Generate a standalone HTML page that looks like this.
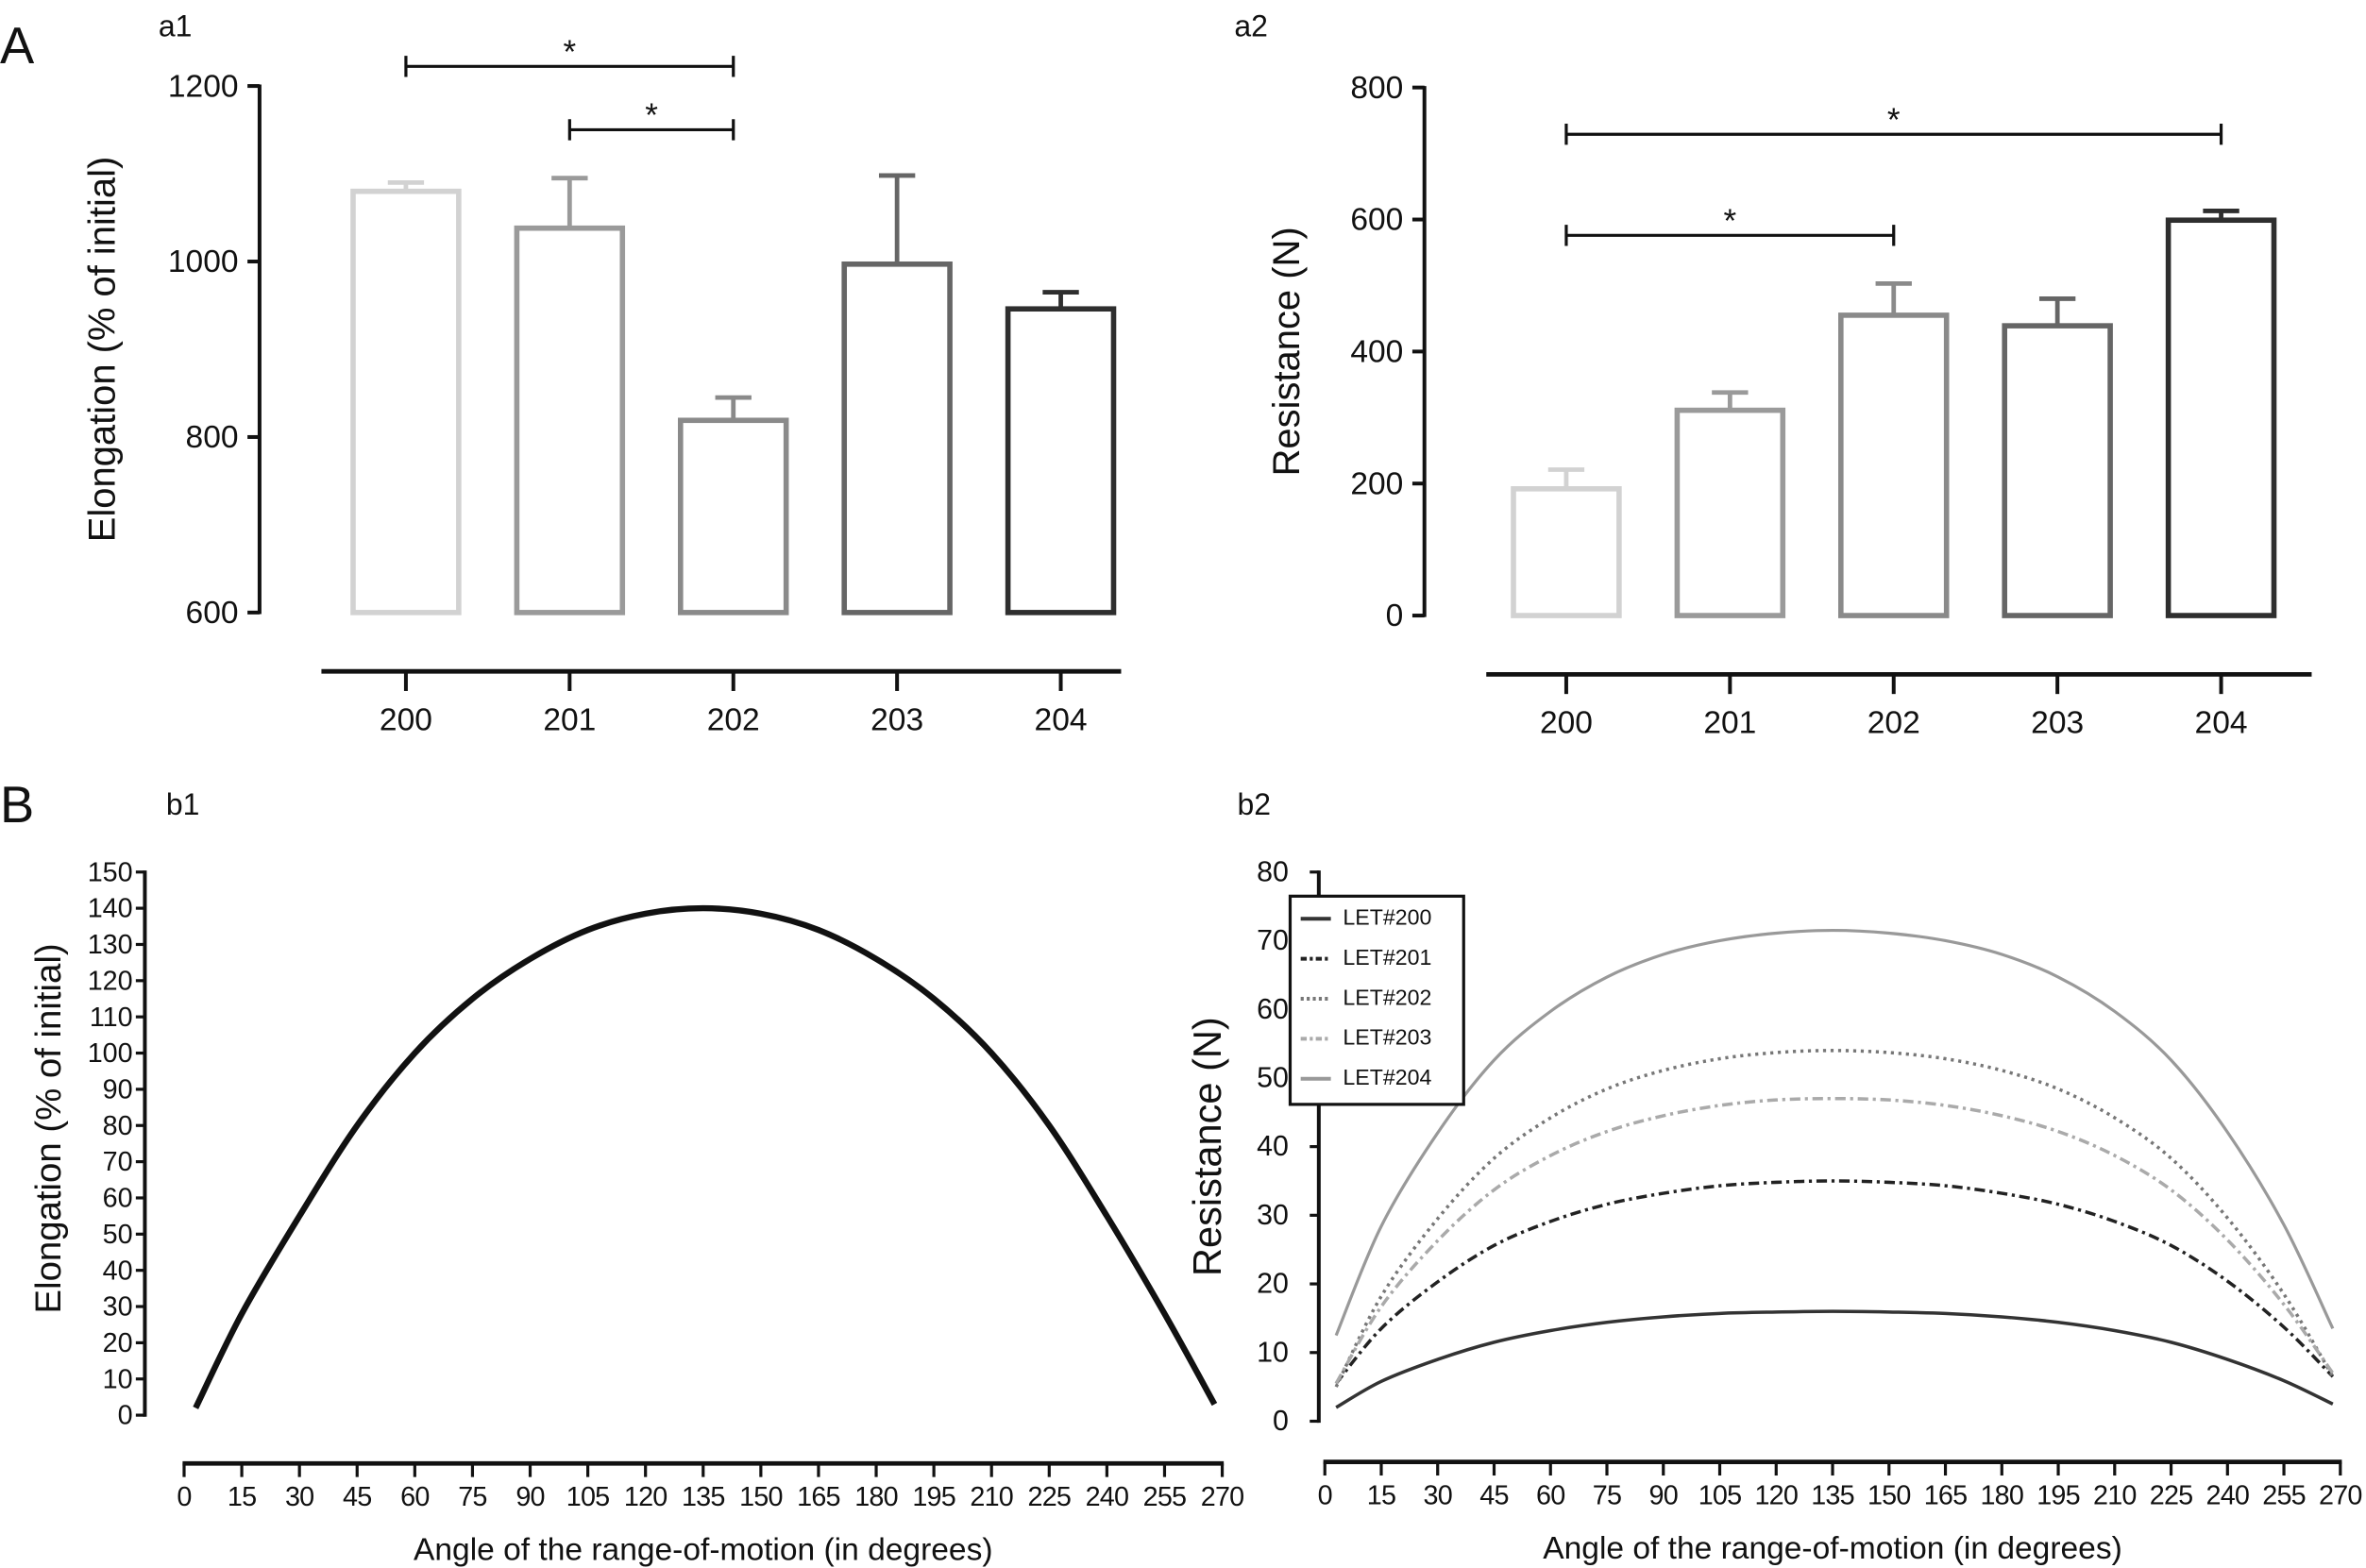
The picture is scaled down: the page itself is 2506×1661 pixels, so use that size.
<!DOCTYPE html>
<html><head><meta charset="utf-8"><style>
html,body{margin:0;padding:0;background:#fff}
svg{display:block}
text{font-family:"Liberation Sans",sans-serif;fill:#111}
.nar{font-family:"Liberation Sans Narrow","Liberation Sans",sans-serif}
</style></head><body>
<svg id="fig" width="2506" height="1661" viewBox="0 0 1568 1039.3" xmlns="http://www.w3.org/2000/svg">
<text x="0" y="42" font-size="34">A</text>
<text x="105" y="24" font-size="20">a1</text>
<text x="818" y="24" font-size="20">a2</text>
<text x="0" y="545" font-size="34">B</text>
<text x="110" y="540" font-size="20">b1</text>
<text x="820" y="540" font-size="20">b2</text>
<g id="a1"></g>
<g id="a2"></g>
<g id="b1"></g>
<g id="b2"></g>
</svg>
<script>
const groups = ["200","201","202","203","204"];
const elongVals = [1080,1038,819,997,946];
const elongErr = [1090,1095,845,1098,965];
const resVals = [192,311,455,439,599];
const resErr = [221,338,503,480,613];
const barColors = ["#d2d2d2","#9a9a9a","#8a8a8a","#666","#2e2e2e"];
const elongTicks = [600,800,1000,1200];
const resTicks = [0,200,400,600,800];

const angles = [3,15,30,45,60,75,90,105,120,135,150,165,180,195,210,225,240,255,268];
const xTicks = [0,15,30,45,60,75,90,105,120,135,150,165,180,195,210,225,240,255,270];
const b1Ticks = [0,10,20,30,40,50,60,70,80,90,100,110,120,130,140,150];
const b2Ticks = [0,10,20,30,40,50,60,70,80];
const elongCurve = [2,28,55,80,100,115,126,134,138.5,140,138.5,134,126,115,100,80,55,28,3];
const let200 = [2,5.8,9,11.5,13.2,14.4,15.2,15.7,15.9,16,15.9,15.7,15.2,14.4,13.2,11.5,9,5.9,2.5];
const let201 = [5.5,13.5,20.3,25.6,29.1,31.6,33.2,34.3,34.8,35,34.8,34.3,33.2,31.6,29.1,25.6,20.4,13.7,6.5];
const let202 = [5,18.2,29.5,38.3,44.2,48.4,51.1,52.8,53.7,54,53.7,52.8,51.1,48.4,44.2,38.3,29.6,18.5,6.5];
const let203 = [5.5,16.7,26.3,33.7,38.7,42.2,44.5,46,46.8,47,46.8,46,44.5,42.2,38.7,33.7,26.4,17,7];
const let204 = [12.5,28.4,42,52.6,59.7,64.7,68,70,71.1,71.5,71.1,70,68,64.7,59.7,52.6,42.1,28.6,13.5];
const seriesNames = ["LET#200","LET#201","LET#202","LET#203","LET#204"];
const NS="http://www.w3.org/2000/svg";
function mk(parent,tag,attrs,txt){const e=document.createElementNS(NS,tag);for(const k in attrs)e.setAttribute(k,attrs[k]);if(txt!==undefined)e.textContent=txt;parent.appendChild(e);return e;}

function barChart(gid,o,vals,errs,ticks,title,brackets){
  const g=document.getElementById(gid);
  const y=v=>o.y0-(v-o.vmin)/(o.vmax-o.vmin)*(o.y0-o.y1);
  const ax=mk(g,'line',{x1:o.ax,y1:y(o.vmax)-1,x2:o.ax,y2:y(o.vmin)+1,stroke:'#111','stroke-width':2.5});
  
  ticks.forEach(t=>{
    const tl=mk(g,'line',{x1:o.ax-8,y1:y(t),x2:o.ax,y2:y(t),stroke:'#111','stroke-width':2.5});
    
    const tx=mk(g,'text',{x:o.ax-14,y:y(t)+7,'font-size':21,'text-anchor':'end'},t);
    
  });
  const tt=mk(g,'text',{x:0,y:0,'font-size':25,'text-anchor':'middle',transform:`translate(${o.titleX},${(o.y0+o.y1)/2}) rotate(-90)`},title);
  
  const xa=mk(g,'line',{x1:o.xl,y1:o.xaY,x2:o.xr,y2:o.xaY,stroke:'#111','stroke-width':3});
  
  groups.forEach((c,i)=>{
    const cx=o.c0+i*o.step;
    const err=mk(g,'line',{x1:cx,y1:y(errs[i]),x2:cx,y2:y(vals[i]),stroke:barColors[i],'stroke-width':3});
    
    const cap=mk(g,'line',{x1:cx-12,y1:y(errs[i]),x2:cx+12,y2:y(errs[i]),stroke:barColors[i],'stroke-width':3});
    
    const r=mk(g,'rect',{x:cx-35,y:y(vals[i]),width:70,height:y(o.vmin)-y(vals[i]),fill:'#fff',stroke:barColors[i],'stroke-width':3.5});
    
    const tk=mk(g,'line',{x1:cx,y1:o.xaY,x2:cx,y2:o.xaY+13,stroke:'#111','stroke-width':2.5});
    
    const lb=mk(g,'text',{x:cx,y:o.xaY+39,'font-size':21,'text-anchor':'middle'},c);
    
  });
  brackets.forEach(b=>{
    const x1=o.c0+b[0]*o.step,x2=o.c0+b[1]*o.step;
    const l=mk(g,'path',{d:`M${x1},${b[2]-7}V${b[2]+7}M${x1},${b[2]}H${x2}M${x2},${b[2]-7}V${b[2]+7}`,stroke:'#111','stroke-width':2,fill:'none'});
    
    const s=mk(g,'text',{x:(x1+x2)/2,y:b[2]-2,'font-size':22,'text-anchor':'middle'},'*');
    
  });
}
barChart('a1',{ax:172,vmin:600,vmax:1200,y0:406,y1:57,c0:269,step:108.5,xl:213,xr:743,xaY:445,titleX:76},elongVals,elongErr,elongTicks,'Elongation (% of initial)',[[0,2,44],[1,2,86]]);
barChart('a2',{ax:944,vmin:0,vmax:800,y0:408,y1:58,c0:1038,step:108.5,xl:985,xr:1532,xaY:447,titleX:861},resVals,resErr,resTicks,'Resistance (N)',[[0,4,89],[0,2,156]]);

function smooth(pts){let d=`M${pts[0][0]},${pts[0][1]}`;for(let i=0;i<pts.length-1;i++){const p0=pts[Math.max(0,i-1)],p1=pts[i],p2=pts[i+1],p3=pts[Math.min(pts.length-1,i+2)];
 d+=`C${p1[0]+(p2[0]-p0[0])/6},${p1[1]+(p2[1]-p0[1])/6} ${p2[0]-(p3[0]-p1[0])/6},${p2[1]-(p3[1]-p1[1])/6} ${p2[0]},${p2[1]}`;}return d;}

function lineChart(gid,o,ticks,title,series){
  const g=document.getElementById(gid);
  const x=a=>o.x0+a/270*(o.x1-o.x0);
  const y=v=>o.y0-v/o.vmax*(o.y0-o.y1);
  const ax=mk(g,'line',{x1:o.ax,y1:y(o.vmax)-1,x2:o.ax,y2:y(0)+1,stroke:'#111','stroke-width':2.5});
  
  ticks.forEach(t=>{
    const tl=mk(g,'line',{x1:o.ax-6,y1:y(t),x2:o.ax,y2:y(t),stroke:'#111','stroke-width':2});
    
    const tx=mk(g,'text',{x:o.ax-o.lo,y:y(t)+6,'font-size':o.yfs,'text-anchor':'end',class:'nar'},t);
    
  });
  const tt=mk(g,'text',{x:0,y:0,'font-size':o.tfs,'text-anchor':'middle',transform:`translate(${o.titleX},${o.titleY}) rotate(-90)`},title);
  
  const xa=mk(g,'line',{x1:x(0)-1,y1:o.xaY,x2:x(270)+1,y2:o.xaY,stroke:'#111','stroke-width':3});
  
  xTicks.forEach(t=>{
    const tk=mk(g,'line',{x1:x(t),y1:o.xaY,x2:x(t),y2:o.xaY+9,stroke:'#111','stroke-width':2});
    
    const lb=mk(g,'text',{x:x(t),y:o.xaY+28,'font-size':18,'text-anchor':'middle',class:'nar','letter-spacing':'-0.5'},t);
    
  });
  const xt=mk(g,'text',{x:(x(0)+x(270))/2,y:o.xaY+64,'font-size':21,'text-anchor':'middle'},'Angle of the range-of-motion (in degrees)');
  
  series.forEach(s=>{
    const p=mk(g,'path',{d:smooth(angles.map((a,i)=>[x(a),y(s.v[i])])),fill:'none',stroke:s.c,'stroke-width':s.w,'stroke-dasharray':s.dash||'none'});
    
  });
}
lineChart('b1',{ax:96,vmax:150,y0:938,y1:578,x0:122,x1:810,xaY:970,yfs:18,tfs:24,titleX:40,titleY:748,lo:8},b1Ticks,'Elongation (% of initial)',[{v:elongCurve,c:'#111',w:4,name:'elongation-curve'}]);
const b2s=[
 {v:let200,c:'#333',w:2.2,name:'line-let200'},
 {v:let201,c:'#222',w:2.2,dash:'7 3 2 3',name:'line-let201'},
 {v:let202,c:'#777',w:2.2,dash:'2 3',name:'line-let202'},
 {v:let203,c:'#aaa',w:2.2,dash:'7 3 2 3',name:'line-let203'},
 {v:let204,c:'#999',w:2,name:'line-let204'}];
lineChart('b2',{ax:874,vmax:80,y0:942,y1:578,x0:878,x1:1551,xaY:969,yfs:19,tfs:26,titleX:809,titleY:760,lo:20},b2Ticks,'Resistance (N)',b2s);

const g2=document.getElementById('b2');
const lg=mk(g2,'g',{});


const lr=mk(lg,'rect',{x:855,y:594,width:115,height:138,fill:'#fff',stroke:'#111','stroke-width':2});


seriesNames.forEach((n,i)=>{
  const yy=608+i*26.5;
  const s=b2s[i];
  const ln=mk(lg,'line',{x1:862,y1:yy+1,x2:882,y2:yy+1,stroke:s.c,'stroke-width':2.5,'stroke-dasharray':s.dash?(s.dash==='2 3'?'2 2':'4 2 2 2'):'none'});
  
  
  const t=mk(lg,'text',{x:890,y:yy+5,'font-size':14.5,class:'nar'},n);
  
  
});
</script>
</body></html>
